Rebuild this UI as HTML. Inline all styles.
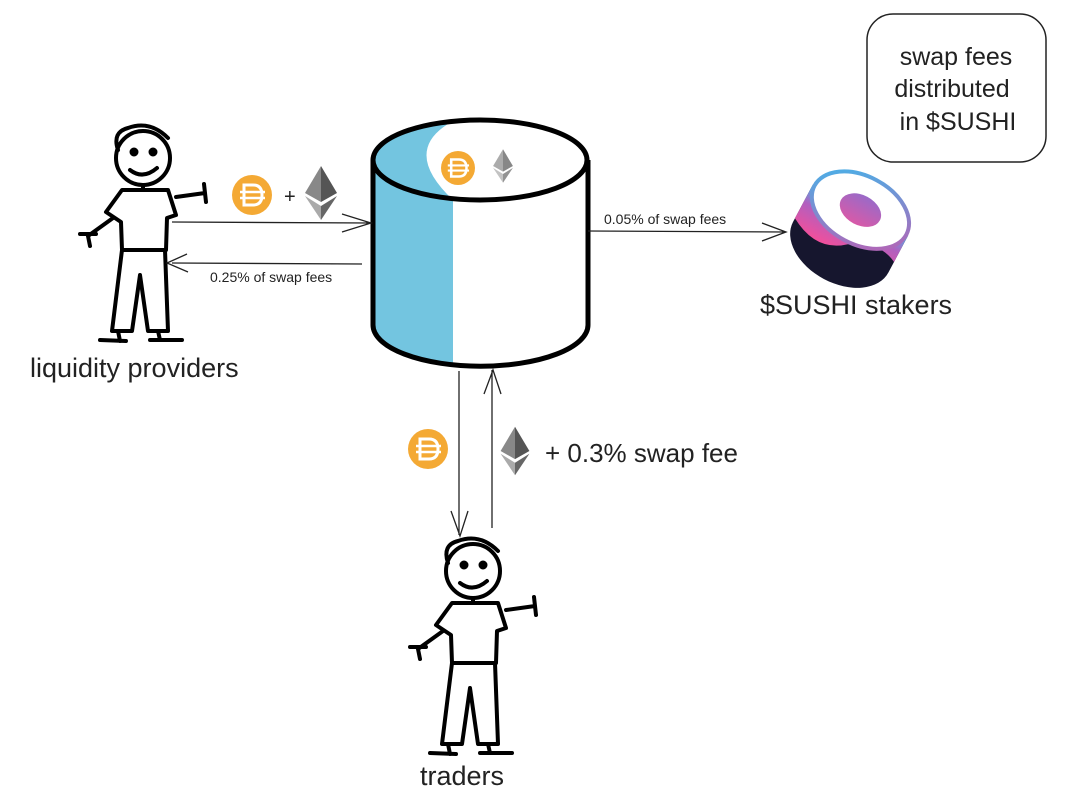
<!DOCTYPE html>
<html><head><meta charset="utf-8"><style>
html,body{margin:0;padding:0;background:#fff;}
svg{display:block;font-family:"Liberation Sans",sans-serif;}
</style></head><body>
<svg width="1066" height="806" viewBox="0 0 1066 806" xmlns="http://www.w3.org/2000/svg">
<defs>
<g id="fig" fill="none" stroke="#000" stroke-width="4" stroke-linecap="round" stroke-linejoin="round">
  <circle cx="143" cy="158" r="27"/>
  <path d="M118 150 Q112 132 128 128 Q150 120 168 138"/>
  <circle cx="134" cy="152" r="2.5" fill="#000"/>
  <circle cx="153" cy="152" r="2.5" fill="#000"/>
  <path d="M130 170 Q143 180 157 168"/>
  <path d="M143 186 L143 190"/>
  <path d="M122 190 L168 190 L176 215 L167 218 L166 250 L122 250 L121 222 L106 212 Z"/>
  <path d="M176 197 L205 193 M204 184 L206 202"/>
  <path d="M113 218 L88 236 M80 234 L96 234 M88 236 L90 246"/>
  <path d="M122 250 L112 331 L132 331 L140 275 L148 331 L168 331 L165 250"/>
  <path d="M100 340 L126 341 M118 331 L120 341 M150 340 L182 340 M158 331 L160 340"/>
</g>
<g id="dai">
  <circle r="20" fill="#f4a934"/>
  <path d="M-8 -10 L1 -10 Q10 -10 10 0 Q10 10 1 10 L-8 10 Z" fill="none" stroke="#fff" stroke-width="3"/>
  <path d="M-12 -3 L13 -3 M-12 3 L13 3" stroke="#fff" stroke-width="2.5"/>
</g>
<g id="eth">
  <polygon points="0,-27 16,0 0,9" fill="#555"/>
  <polygon points="0,-27 -16,0 0,9" fill="#888"/>
  <polygon points="0,13 16,3 0,27" fill="#666"/>
  <polygon points="0,13 -16,3 0,27" fill="#aaa"/>
</g>
<linearGradient id="sg" x1="0" y1="0" x2="0" y2="1"><stop offset="0" stop-color="#4ab6e8"/><stop offset="0.4" stop-color="#b060c0"/><stop offset="1" stop-color="#f24f9b"/></linearGradient>
<linearGradient id="hg" x1="0" y1="0" x2="0" y2="1"><stop offset="0" stop-color="#9a6ac8"/><stop offset="1" stop-color="#d85aa8"/></linearGradient>
<linearGradient id="rg" x1="0" y1="0" x2="1" y2="1"><stop offset="0" stop-color="#3fb8ec"/><stop offset="1" stop-color="#c05bb0"/></linearGradient>
</defs>

<!-- cylinder -->
<path d="M373 160 L373 325 A107 41 0 0 0 453 364 L453 200 Z" fill="#73c5e0"/>
<path d="M373 160 A107 40 0 0 1 453 121 Q400 150 453 200 A107 40 0 0 1 373 160 Z" fill="#73c5e0"/>
<path d="M373 160 L373 325 A107 41 0 0 0 588 325 L588 160" fill="none" stroke="#000" stroke-width="5"/>
<ellipse cx="480" cy="160" rx="107" ry="40" fill="none" stroke="#000" stroke-width="5"/>
<use href="#dai" transform="translate(458,168) scale(0.85)"/>
<use href="#eth" transform="translate(503,166) scale(0.62)" opacity="0.7"/>

<!-- LP -->
<use href="#fig"/>
<text x="30" y="377" font-size="27" fill="#222">liquidity providers</text>
<use href="#dai" transform="translate(252,195)"/>
<text x="284" y="203" font-size="20" fill="#222">+</text>
<use href="#eth" transform="translate(321,193)"/>
<g stroke="#222" stroke-width="1.3" fill="none">
  <path d="M172 222 L370 223 M342 214 L371 223 L342 232"/>
  <path d="M172 263 L362 264 M187 254 L167 263 L188 272"/>
  <path d="M588 231 L785 232 M762 223 L786 232 L762 241"/>
  <path d="M459 371 L459 535 M451 511 L460 536 L468 511"/>
  <path d="M492 528 L492 370 M484 394 L493 370 L501 394"/>
</g>
<text x="210" y="282" font-size="14" fill="#222">0.25% of swap fees</text>
<text x="604" y="224" font-size="14" fill="#222">0.05% of swap fees</text>

<!-- sushi -->
<g transform="translate(852,226) rotate(28)">
  <path d="M-54 -18 L-54 24 A54 36 0 0 0 54 24 L54 -18 Z" fill="#16162e"/>
  <path d="M-54 -18 L-54 20 Q-20 40 5 18 Q30 0 54 12 L54 -18 Z" fill="url(#sg)"/>
  <ellipse cx="0" cy="-18" rx="52" ry="34" fill="#fff" stroke="url(#rg)" stroke-width="4"/>
  <ellipse cx="0" cy="-18" rx="22" ry="15" fill="url(#hg)"/>
</g>
<text x="760" y="314" font-size="27" fill="#222">$SUSHI stakers</text>

<!-- box -->
<rect x="867" y="14" width="179" height="148" rx="26" fill="#fff" stroke="#222" stroke-width="1.5"/>
<text x="956" y="65" font-size="25" fill="#222" text-anchor="middle">swap fees</text>
<text x="952" y="97" font-size="25" fill="#222" text-anchor="middle">distributed</text>
<text x="958" y="130" font-size="25" fill="#222" text-anchor="middle">in $SUSHI</text>

<!-- traders -->
<use href="#dai" transform="translate(428,449)"/>
<use href="#eth" transform="translate(515,451) scale(0.9)"/>
<text x="545" y="462" font-size="26" fill="#222">+ 0.3% swap fee</text>
<use href="#fig" transform="translate(330,413)"/>
<text x="420" y="785" font-size="27" fill="#222">traders</text>
</svg>
</body></html>
